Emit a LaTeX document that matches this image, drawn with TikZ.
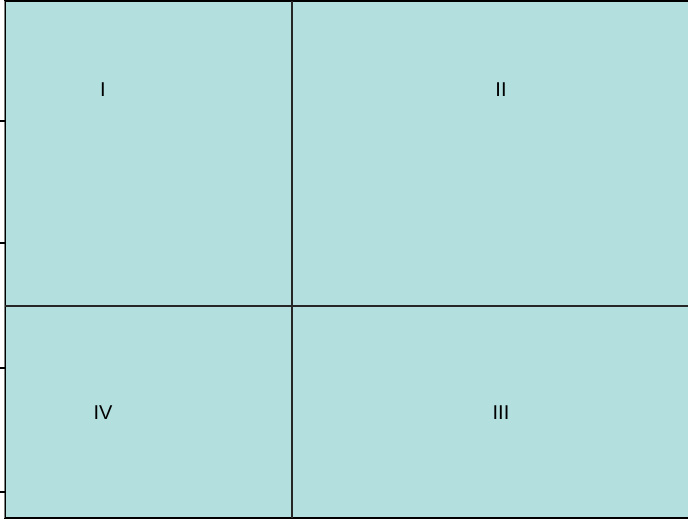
\documentclass[tikz,border=0pt]{standalone}
\usepackage{fontspec}
\setmainfont{Liberation Sans}
\usepackage{xcolor}
\usetikzlibrary{positioning}
\definecolor{quadfill}{HTML}{B3DFDF}

\begin{document}
\begin{tikzpicture}[
  x=0.75pt, y=-0.75pt,
  font=\fontsize{15}{17}\selectfont,
  quad/.style={inner sep=0pt},
  frame/.style={draw=black, line width=0.9pt},
  divider/.style={draw=black!85, line width=1pt},
  tick/.style={draw=black, line width=0.8pt}
]
\useasboundingbox (0,0) rectangle (688,519);
% background field
\fill[quadfill] (5,1) rectangle (688,518);
\coordinate (tl) at (5,1);
\coordinate (tr) at (688,1);
\coordinate (bl) at (5,518);
\coordinate (br) at (688,518);
% outer frame: left, top, bottom
\draw[frame] (tr) -- (tl) -- (bl) -- (br);
\draw[draw=gray, line width=0.6pt] (4,1) -- (4,518);
% dividers
\coordinate (vtop) at (292,1);
\coordinate (vbot) at (292,518);
\coordinate (hleft) at (5,306);
\coordinate (hright) at (688,306);
\draw[divider] (vtop) -- (vbot);
\draw[divider] (hleft) -- (hright);
% ticks on the left edge
\foreach \ty in {121,243,368,492}{\draw[tick] (0,\ty) -- (5,\ty);}
% quadrant labels
\node[quad] (q1) at (103,89.5) {I};
\node[quad] (q2) at (501,89.5) {II};
\node[quad] (q3) at (501,412.5) {III};
\node[quad] (q4) at (103,412.5) {IV};
\end{tikzpicture}
\end{document}
